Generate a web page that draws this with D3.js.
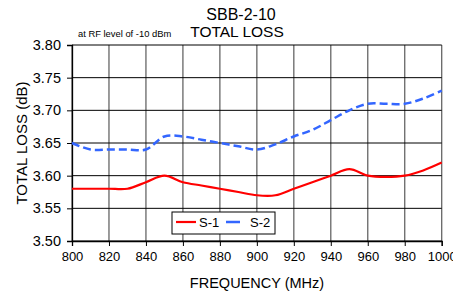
<!DOCTYPE html>
<html>
<head>
<meta charset="utf-8">
<script src="https://cdn.jsdelivr.net/npm/d3@7"></script>
<style>
	body { margin: 0; background: #fff; }
	svg { font-family: "Liberation Sans", Arial, sans-serif; }
</style>
</head>
<body>
<div id="chart"></div>
<script>
// chart data
var freq = [800, 810, 820, 830, 840, 850, 860, 870, 880, 890, 900, 910, 920, 930, 940, 950, 960, 970, 980, 990, 1000];
var s1 = [3.58, 3.58, 3.58, 3.58, 3.59, 3.60, 3.59, 3.585, 3.58, 3.575, 3.57, 3.57, 3.58, 3.59, 3.60, 3.61, 3.60, 3.598, 3.60, 3.608, 3.62];
var s2 = [3.65, 3.64, 3.64, 3.64, 3.64, 3.66, 3.66, 3.655, 3.65, 3.645, 3.64, 3.648, 3.66, 3.67, 3.685, 3.70, 3.71, 3.71, 3.71, 3.718, 3.73];
var xTicks = [800, 820, 840, 860, 880, 900, 920, 940, 960, 980, 1000];
var yTicks = [3.50, 3.55, 3.60, 3.65, 3.70, 3.75, 3.80];
var seriesNames = ["S-1", "S-2"];

var W = 453, H = 293;
var plotL = 72, plotR = 441.7, plotT = 45, plotB = 241;

var svg = d3.select("#chart")
	.append("svg")
		.attr("width", W)
		.attr("height", H);

var x = d3.scaleLinear().domain([800, 1000]).range([plotL, plotR]);
var y = d3.scaleLinear().domain([3.50, 3.80]).range([plotB, plotT]);

// vertical grid
svg.append("g")
	.selectAll("line")
	.data(xTicks)
	.join("line")
		.attr("x1", d => x(d)).attr("x2", d => x(d))
		.attr("y1", plotT).attr("y2", plotB)
		.attr("stroke", "#666")
		.attr("stroke-width", 1.3);

// horizontal grid
svg.append("g")
	.selectAll("line")
	.data(yTicks)
	.join("line")
		.attr("x1", plotL).attr("x2", plotR)
		.attr("y1", d => y(d)).attr("y2", d => y(d))
		.attr("stroke", "#000")
		.attr("stroke-width", 1);

// axes
var yAxis = svg.append("g")
	.attr("transform", "translate(" + plotL + ",0)")
	.call(d3.axisLeft(y).tickValues(yTicks).tickFormat(d3.format(".2f")).tickSize(5).tickPadding(6));
var xAxis = svg.append("g")
	.attr("transform", "translate(0," + plotB + ")")
	.call(d3.axisBottom(x).tickValues(xTicks).tickFormat(d3.format("d")).tickSize(5).tickPadding(6));

[xAxis, yAxis].forEach(function(a) {
	a.select(".domain").attr("stroke", "#000").attr("stroke-width", 1.3);
	a.selectAll(".tick line").attr("stroke", "#000");
	a.selectAll("text").attr("font-size", 13).attr("fill", "#000")
		.attr("font-family", "'Liberation Sans', Arial, sans-serif");
});
yAxis.selectAll("text").attr("font-size", 14.5);

// lines
var line = d3.line()
	.x((d, i) => x(freq[i]))
	.y(d => y(d))
	.curve(d3.curveCatmullRom.alpha(0.5));

svg.append("path")
	.datum(s1)
	.attr("d", line)
	.attr("fill", "none")
	.attr("stroke", "#ff0000")
	.attr("stroke-width", 2.2);

svg.append("path")
	.datum(s2)
	.attr("d", line)
	.attr("fill", "none")
	.attr("stroke", "#3366ff")
	.attr("stroke-width", 2.5)
	.attr("stroke-dasharray", "8,4");

// titles
svg.append("text")
	.attr("x", 241).attr("y", 20)
	.attr("text-anchor", "middle")
	.attr("font-size", 16)
	.text("SBB-2-10");
svg.append("text")
	.attr("x", 237).attr("y", 37)
	.attr("text-anchor", "middle")
	.attr("font-size", 15.5)
	.text("TOTAL LOSS");
svg.append("text")
	.attr("x", 78).attr("y", 37)
	.attr("font-size", 9.4)
	.text("at RF level of -10 dBm");

svg.append("text")
	.attr("transform", "translate(27," + ((plotT + plotB) / 2) + ") rotate(-90)")
	.attr("text-anchor", "middle")
	.attr("font-size", 15)
	.text("TOTAL LOSS (dB)");
svg.append("text")
	.attr("x", 257).attr("y", 288)
	.attr("text-anchor", "middle")
	.attr("font-size", 14.5)
	.text("FREQUENCY (MHz)");

// legend
var lg = svg.append("g").attr("transform", "translate(172,212)");
lg.append("rect")
	.attr("width", 103).attr("height", 22)
	.attr("fill", "#fff").attr("stroke", "#000").attr("stroke-width", 1);
var colors = ["#ff0000", "#3366ff"];
var lx = [4, 54];
seriesNames.forEach(function(name, i) {
	lg.append("line")
		.attr("x1", lx[i]).attr("x2", lx[i] + (i ? 14 : 20))
		.attr("y1", 10).attr("y2", 10)
		.attr("stroke", colors[i])
		.attr("stroke-width", i ? 2.5 : 2.2);
	lg.append("text")
		.attr("x", i ? 78 : 27).attr("y", 15)
		.attr("font-size", 13)
		.text(name);
});
</script>
</body>
</html>
